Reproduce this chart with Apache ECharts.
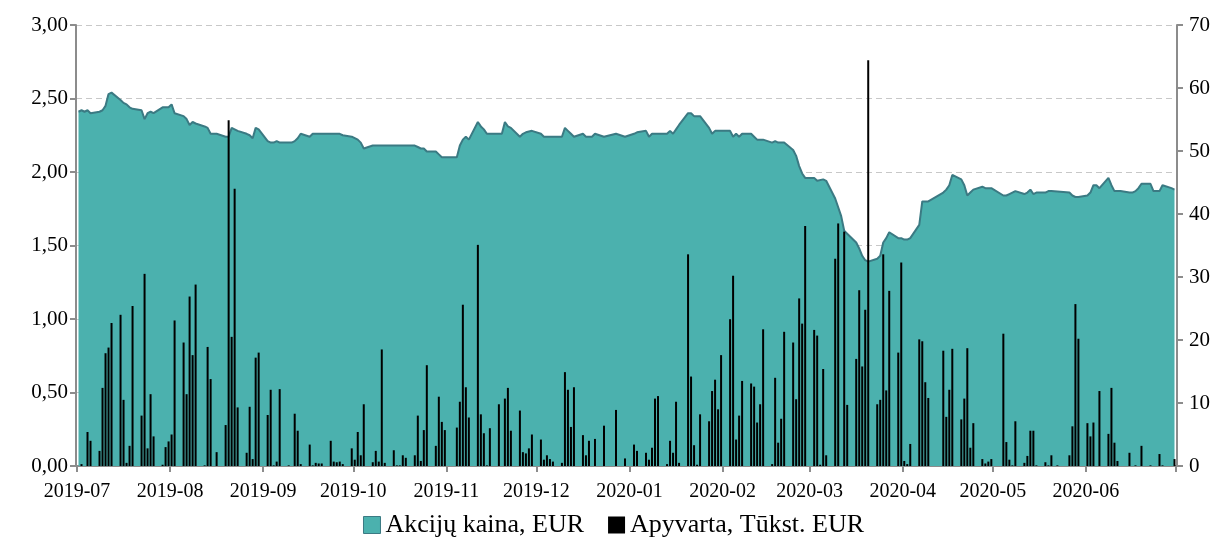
<!DOCTYPE html>
<html>
<head>
<meta charset="utf-8">
<script src="https://cdn.jsdelivr.net/npm/echarts@6/dist/echarts.min.js"></script>
<style>
html,body{margin:0;padding:0;background:#fff;}
#chartmain{width:1227px;height:545px;}
</style>
</head>
<body>
<div id="chartmain"></div>
<script>
// akciju kaina (EUR), prekybos dienos
var priceDates = [
 '2019-07-01','2019-07-02','2019-07-03','2019-07-04','2019-07-05','2019-07-08','2019-07-09','2019-07-10','2019-07-11','2019-07-12',
 '2019-07-15','2019-07-16','2019-07-17','2019-07-18','2019-07-19','2019-07-22','2019-07-23','2019-07-24','2019-07-25','2019-07-26',
 '2019-07-29','2019-07-31','2019-08-01','2019-08-02','2019-08-05','2019-08-06','2019-08-07','2019-08-08','2019-08-09','2019-08-12',
 '2019-08-13','2019-08-14','2019-08-16','2019-08-19','2019-08-20','2019-08-21','2019-08-22','2019-08-23','2019-08-26','2019-08-27',
 '2019-08-28','2019-08-29','2019-08-30','2019-09-02','2019-09-03','2019-09-04','2019-09-05','2019-09-06','2019-09-10','2019-09-11',
 '2019-09-12','2019-09-13','2019-09-16','2019-09-17','2019-09-26','2019-09-27','2019-09-30','2019-10-01','2019-10-02','2019-10-03',
 '2019-10-04','2019-10-07','2019-10-21','2019-10-22','2019-10-23','2019-10-24','2019-10-25','2019-10-28','2019-10-29','2019-10-30',
 '2019-11-04','2019-11-05','2019-11-06','2019-11-07','2019-11-08','2019-11-11','2019-11-12','2019-11-13','2019-11-14','2019-11-19',
 '2019-11-20','2019-11-21','2019-11-22','2019-11-25','2019-11-26','2019-11-27','2019-11-29','2019-12-02','2019-12-03','2019-12-09',
 '2019-12-10','2019-12-11','2019-12-12','2019-12-13','2019-12-16','2019-12-17','2019-12-19','2019-12-20','2019-12-23','2019-12-27',
 '2019-12-30','2020-01-02','2020-01-03','2020-01-06','2020-01-07','2020-01-08','2020-01-13','2020-01-14','2020-01-15','2020-01-16',
 '2020-01-17','2020-01-20','2020-01-21','2020-01-22','2020-01-24','2020-01-27','2020-01-28','2020-01-29','2020-02-03','2020-02-04',
 '2020-02-05','2020-02-06','2020-02-07','2020-02-10','2020-02-11','2020-02-12','2020-02-14','2020-02-17','2020-02-18','2020-02-19',
 '2020-02-21','2020-02-24','2020-02-25','2020-02-26','2020-02-27','2020-02-28','2020-03-02','2020-03-03','2020-03-05','2020-03-06',
 '2020-03-09','2020-03-10','2020-03-11','2020-03-12','2020-03-13','2020-03-16','2020-03-17','2020-03-18','2020-03-19','2020-03-20',
 '2020-03-23','2020-03-24','2020-03-25','2020-03-26','2020-03-27','2020-03-30','2020-03-31','2020-04-01','2020-04-02','2020-04-03',
 '2020-04-06','2020-04-07','2020-04-09','2020-04-14','2020-04-15','2020-04-16','2020-04-17','2020-04-20','2020-04-21','2020-04-22',
 '2020-04-23','2020-04-24','2020-04-27','2020-04-28','2020-04-30','2020-05-04','2020-05-05','2020-05-06','2020-05-07','2020-05-08',
 '2020-05-11','2020-05-12','2020-05-13','2020-05-14','2020-05-15','2020-05-18','2020-05-19','2020-05-20','2020-05-26','2020-05-27',
 '2020-05-28','2020-05-29','2020-06-01','2020-06-02','2020-06-03','2020-06-04','2020-06-05','2020-06-08','2020-06-09','2020-06-10',
 '2020-06-12','2020-06-15','2020-06-16','2020-06-17','2020-06-18','2020-06-19','2020-06-22','2020-06-23','2020-06-25','2020-06-26',
 '2020-06-29','2020-06-30'
];
var priceValues = [
 2.41,2.42,2.41,2.42,2.40,2.41,2.42,2.45,2.53,2.54,
 2.49,2.47,2.46,2.44,2.43,2.42,2.36,2.40,2.41,2.40,
 2.44,2.44,2.46,2.40,2.38,2.36,2.32,2.34,2.33,2.31,
 2.30,2.26,2.26,2.24,2.24,2.30,2.29,2.28,2.26,2.25,
 2.23,2.30,2.29,2.21,2.20,2.20,2.21,2.20,2.20,2.21,
 2.23,2.26,2.24,2.26,2.26,2.25,2.24,2.23,2.22,2.20,
 2.16,2.18,2.18,2.17,2.16,2.16,2.14,2.14,2.12,2.10,
 2.10,2.18,2.22,2.24,2.22,2.34,2.31,2.29,2.26,2.26,
 2.34,2.31,2.30,2.24,2.26,2.27,2.28,2.26,2.24,2.24,
 2.30,2.28,2.26,2.24,2.26,2.24,2.24,2.26,2.24,2.26,
 2.24,2.26,2.27,2.28,2.24,2.26,2.26,2.28,2.26,2.29,
 2.32,2.40,2.40,2.38,2.38,2.30,2.26,2.28,2.28,2.24,
 2.26,2.24,2.26,2.26,2.24,2.22,2.22,2.20,2.21,2.20,
 2.20,2.15,2.11,2.04,1.99,1.96,1.96,1.94,1.95,1.94,
 1.82,1.76,1.70,1.60,1.58,1.52,1.48,1.43,1.40,1.39,
 1.41,1.43,1.52,1.55,1.59,1.55,1.55,1.54,1.54,1.55,
 1.64,1.80,1.80,1.86,1.88,1.91,1.98,1.95,1.91,1.84,
 1.86,1.88,1.90,1.89,1.89,1.84,1.84,1.85,1.86,1.87,
 1.85,1.86,1.88,1.85,1.86,1.86,1.87,1.87,1.86,1.84,
 1.83,1.83,1.84,1.86,1.91,1.91,1.89,1.96,1.91,1.87,
 1.87,1.86,1.86,1.87,1.89,1.92,1.92,1.87,1.87,1.91,
 1.89,1.88
];

// apyvarta (tukst. EUR)
var volDates = [
 '2019-07-02','2019-07-04','2019-07-05','2019-07-08','2019-07-09','2019-07-10','2019-07-11','2019-07-12','2019-07-15','2019-07-16',
 '2019-07-17','2019-07-18','2019-07-19','2019-07-22','2019-07-23','2019-07-24','2019-07-25','2019-07-26','2019-07-29','2019-07-30',
 '2019-07-31','2019-08-01','2019-08-02','2019-08-05','2019-08-06','2019-08-07','2019-08-08','2019-08-09','2019-08-12','2019-08-13',
 '2019-08-14','2019-08-16','2019-08-19','2019-08-20','2019-08-21','2019-08-22','2019-08-23','2019-08-26','2019-08-27','2019-08-28',
 '2019-08-29','2019-08-30','2019-09-02','2019-09-03','2019-09-04','2019-09-05','2019-09-06','2019-09-09','2019-09-11','2019-09-12',
 '2019-09-13','2019-09-16','2019-09-17','2019-09-18','2019-09-19','2019-09-20','2019-09-23','2019-09-24','2019-09-25','2019-09-26',
 '2019-09-27','2019-09-30','2019-10-01','2019-10-02','2019-10-03','2019-10-04','2019-10-07','2019-10-08','2019-10-09','2019-10-10',
 '2019-10-11','2019-10-14','2019-10-15','2019-10-16','2019-10-17','2019-10-18','2019-10-21','2019-10-22','2019-10-23','2019-10-24',
 '2019-10-25','2019-10-28','2019-10-29','2019-10-30','2019-10-31','2019-11-04','2019-11-05','2019-11-06','2019-11-07','2019-11-08',
 '2019-11-11','2019-11-12','2019-11-13','2019-11-14','2019-11-15','2019-11-18','2019-11-20','2019-11-21','2019-11-22','2019-11-25',
 '2019-11-26','2019-11-27','2019-11-28','2019-11-29','2019-12-02','2019-12-03','2019-12-04','2019-12-05','2019-12-06','2019-12-09',
 '2019-12-10','2019-12-11','2019-12-12','2019-12-13','2019-12-16','2019-12-17','2019-12-18','2019-12-20','2019-12-23','2019-12-27',
 '2019-12-30','2020-01-02','2020-01-03','2020-01-06','2020-01-07','2020-01-08','2020-01-09','2020-01-10','2020-01-13','2020-01-14',
 '2020-01-15','2020-01-16','2020-01-17','2020-01-20','2020-01-21','2020-01-22','2020-01-23','2020-01-24','2020-01-27','2020-01-28',
 '2020-01-29','2020-01-30','2020-01-31','2020-02-03','2020-02-04','2020-02-05','2020-02-06','2020-02-07','2020-02-10','2020-02-11',
 '2020-02-12','2020-02-13','2020-02-14','2020-02-17','2020-02-18','2020-02-19','2020-02-20','2020-02-21','2020-02-24','2020-02-25',
 '2020-02-26','2020-02-27','2020-02-28','2020-03-02','2020-03-03','2020-03-04','2020-03-05','2020-03-06','2020-03-09','2020-03-10',
 '2020-03-12','2020-03-13','2020-03-16','2020-03-17','2020-03-18','2020-03-19','2020-03-20','2020-03-23','2020-03-24','2020-03-25',
 '2020-03-26','2020-03-27','2020-03-30','2020-03-31','2020-04-01','2020-04-02','2020-04-03','2020-04-06','2020-04-07','2020-04-08',
 '2020-04-09','2020-04-14','2020-04-15','2020-04-16','2020-04-17','2020-04-20','2020-04-21','2020-04-22','2020-04-23','2020-04-24',
 '2020-04-27','2020-04-28','2020-04-29','2020-04-30','2020-05-04','2020-05-05','2020-05-06','2020-05-07','2020-05-08','2020-05-11',
 '2020-05-12','2020-05-13','2020-05-14','2020-05-15','2020-05-18','2020-05-19','2020-05-20','2020-05-22','2020-05-26','2020-05-27',
 '2020-05-28','2020-05-29','2020-06-01','2020-06-02','2020-06-03','2020-06-05','2020-06-08','2020-06-09','2020-06-10','2020-06-11',
 '2020-06-15','2020-06-17','2020-06-19','2020-06-22','2020-06-25','2020-06-26','2020-06-30'
];
var volValues = [
 0.3,5.4,4.0,2.4,12.4,17.9,18.8,22.7,24.0,10.5,
 0.5,3.2,25.4,8.0,30.5,2.8,11.4,4.7,0.2,3.0,
 3.9,5.0,23.1,19.6,11.4,26.9,17.6,28.8,0.1,18.9,
 13.8,2.2,6.5,54.9,20.5,44.0,9.3,2.1,9.4,1.1,
 17.2,18.0,8.1,12.1,0.1,0.7,12.2,0.1,8.3,5.6,
 0.3,3.4,0.1,0.5,0.4,0.4,4.0,0.7,0.6,0.7,
 0.3,2.8,1.0,5.4,1.7,9.8,0.6,2.4,0.7,18.5,
 0.5,2.5,0.1,0.1,1.7,1.3,1.7,8.0,0.8,5.7,
 16.0,3.2,11.0,7.0,5.7,6.1,10.2,25.6,12.5,7.7,
 35.1,8.2,5.2,0.1,6.0,9.8,10.7,12.4,5.6,8.8,
 2.2,2.0,2.8,5.0,4.2,1.0,1.7,1.1,0.7,0.5,
 14.9,12.1,6.2,12.5,4.9,1.7,4.0,4.3,6.4,8.9,
 1.2,3.4,2.4,2.1,1.0,2.9,10.7,11.1,0.3,4.0,
 2.1,10.2,0.5,33.6,14.2,3.3,0.2,8.2,7.1,11.9,
 13.7,9.0,17.6,23.3,30.2,4.2,8.0,13.5,13.1,12.6,
 6.9,9.8,21.7,0.3,14.0,3.7,7.5,21.3,19.6,10.6,
 26.6,22.6,38.1,21.6,20.7,0.2,15.4,1.7,32.9,38.5,
 37.2,9.7,17.0,27.9,15.8,24.8,64.4,9.8,10.5,33.6,
 12.0,27.8,18.0,32.3,0.8,0.3,3.5,20.1,19.8,13.3,
 10.8,18.3,7.8,12.1,18.6,7.4,10.7,18.7,2.9,6.8,
 1.1,0.4,0.7,1.1,21.0,3.8,1.0,0.1,7.1,0.5,
 1.6,5.6,5.6,0.1,0.6,0.1,1.7,0.1,1.7,6.3,
 25.7,20.2,6.8,4.7,6.9,11.9,5.1,12.4,3.7,0.8,
 2.1,0.1,3.2,0.1,1.9,0.1,1.1
];

var priceName = 'Akcijų kaina, EUR';
var volName = 'Apyvarta, Tūkst. EUR';
var axisStart = '2019-07-01';
var axisEnd = '2020-07-01';

var priceData = [];
for (var i = 0; i < priceDates.length; i++) {
	priceData.push([priceDates[i] + ' 12:00', priceValues[i]]);
}
var volData = [];
for (var j = 0; j < volDates.length; j++) {
	volData.push([volDates[j] + ' 12:00', volValues[j]]);
}

var myChart = echarts.init(document.getElementById('chartmain'));
var serif = 'Liberation Serif';
var axisGray = '#8c8c8c';
var endTime = echarts.time.parse(axisEnd).getTime();

var option = {
	backgroundColor: '#fff',
	animation: false,
	textStyle: { fontFamily: serif, color: '#000' },
	grid: { left: 76, right: 50, top: 25, bottom: 79 },
	legend: {
		bottom: 2,
		left: 'center',
		itemWidth: 17,
		itemHeight: 17,
		itemGap: 24,
		textStyle: { fontFamily: serif, fontSize: 26, color: '#000' },
		data: [
			{ name: priceName, icon: 'rect', itemStyle: { color: '#4bb1ae', borderColor: '#3b7a83', borderWidth: 1 } },
			{ name: volName, icon: 'rect', itemStyle: { color: '#000' } }
		]
	},
	xAxis: {
		type: 'time',
		min: axisStart,
		max: axisEnd,
		splitNumber: 12,
		axisLine: { lineStyle: { color: axisGray, width: 2 } },
		axisTick: { show: true, length: 6, lineStyle: { color: axisGray, width: 2 } },
		splitLine: { show: false },
		axisLabel: {
			formatter: function (v) {
				if (v >= endTime) return '';
				return echarts.time.format(v, '{yyyy}-{MM}', false);
			},
			fontFamily: serif,
			fontSize: 20,
			fontWeight: 'normal',
			color: '#000',
			margin: 16
		}
	},
	yAxis: [
		{
			type: 'value',
			min: 0,
			max: 3,
			interval: 0.5,
			axisLine: { show: true, lineStyle: { color: axisGray, width: 2 } },
			axisTick: { show: true, length: 6, lineStyle: { color: axisGray, width: 2 } },
			splitLine: { show: true, lineStyle: { color: '#c8c8c8', type: [6, 4], width: 1 } },
			axisLabel: {
				fontFamily: serif, fontSize: 21, color: '#000', margin: 8,
				formatter: function (v) { return v.toFixed(2).replace('.', ','); }
			}
		},
		{
			type: 'value',
			min: 0,
			max: 70,
			interval: 10,
			position: 'right',
			axisLine: { show: true, lineStyle: { color: axisGray, width: 2 } },
			axisTick: { show: true, length: 6, lineStyle: { color: axisGray, width: 2 } },
			splitLine: { show: false },
			axisLabel: { fontFamily: serif, fontSize: 21, color: '#000', margin: 12 }
		}
	],
	series: [
		{
			name: priceName,
			type: 'line',
			yAxisIndex: 0,
			symbol: 'none',
			smooth: false,
			data: priceData,
			itemStyle: { color: '#4bb1ae' },
			lineStyle: { color: '#3b7a83', width: 2 },
			areaStyle: { color: '#4bb1ae', opacity: 1 },
			z: 2
		},
		{
			name: volName,
			type: 'bar',
			yAxisIndex: 1,
			barWidth: 2,
			data: volData,
			itemStyle: { color: '#000' },
			z: 3
		}
	]
};
myChart.setOption(option);
</script>
</body>
</html>
